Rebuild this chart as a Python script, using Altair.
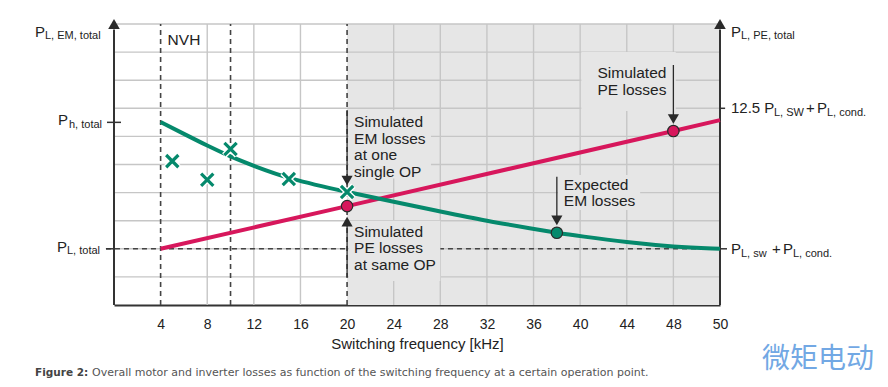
import altair as alt
import pandas as pd

# ---------------- data ----------------
em_freq = [4, 6, 8, 10, 12, 15, 20, 24, 28, 32, 36, 38, 40, 44, 48, 50]
em_loss = [6.51, 6.09, 5.67, 5.28, 4.95, 4.49, 4.02, 3.67, 3.33, 2.99, 2.71, 2.57, 2.45, 2.23, 2.07, 2.0]
pe_freq = [4, 20, 48, 50]
pe_loss = [2.0, 3.52, 6.19, 6.58]
sim_em_freq = [5, 8, 10, 15, 20]
sim_em_loss = [5.12, 4.46, 5.55, 4.48, 4.02]
pe_dot_freq = [20, 48]
pe_dot_loss = [3.52, 6.19]
em_dot_freq = [38]
em_dot_loss = [2.57]
x_ticks = [4, 8, 12, 16, 20, 24, 28, 32, 36, 40, 44, 48, 50]
grid_x = [8, 12, 16, 24, 28, 32, 36, 40, 44, 48]
grid_y = [1, 2, 3, 4, 5, 6, 7, 8, 9, 10]
dashed_x = [4, 10, 20]
p_h_total = 6.5
p_l_total = 2.0
pe_max = 7.0
shaded = [20, 50]

# arrows: x, tail, head-center
arr_down_x = [20, 48, 38]
arr_down_tail = [6.94, 8.54, 4.56]
arr_down_head = [4.43, 6.62, 3.01]
arr_up_x = [20]
arr_up_tail = [1.0]
arr_up_head = [2.97]

# background boxes behind the annotation texts
box_x1 = [20.15, 20.15, 40.1, 38.1]
box_x2 = [27.2, 28.0, 48.1, 45.15]
box_y1 = [4.5, 0.85, 6.9, 3.38]
box_y2 = [6.93, 3.0, 9.0, 4.63]

FONT = "Liberation Sans"
RED = "#d7175c"
GREEN = "#05896c"
GRID = "#c6c6c6"
SHADE = "#e6e6e6"
DARK = "#2a2a2a"

W, H = 606, 281
xs = alt.Scale(domain=[0, 48, 50], range=[0, 48 / 52 * W, W], nice=False, zero=False)
ys = alt.Scale(domain=[0, 10], nice=False, zero=False)

xaxis = alt.Axis(values=x_ticks, title="Switching frequency [kHz]", grid=False,
                 ticks=False, tickSize=0, labelPadding=12, labelFontSize=14,
                 labelColor="#222", labelFont=FONT, titleFont=FONT, titleFontSize=15,
                 titleFontWeight="normal", titleColor="#222", titlePadding=5,
                 domainColor="#333", domainWidth=2, labelFlush=False, labelOverlap=False)


def X(f):
    return alt.X(f, type="quantitative", scale=xs, axis=xaxis)


def X2(f):
    return alt.X2(f)


def Y(f):
    return alt.Y(f, type="quantitative", scale=ys, axis=None)


def Y2(f):
    return alt.Y2(f)


layers = []

# shaded region
layers.append(alt.Chart(pd.DataFrame({"a": [shaded[0]], "b": [shaded[1]], "c": [0], "d": [10]}))
              .mark_rect(color=SHADE).encode(x=X("a"), x2=X2("b"), y=Y("c"), y2=Y2("d")))

# grid
layers.append(alt.Chart(pd.DataFrame({"x": grid_x, "c": 0, "d": 10}))
              .mark_rule(color=GRID, strokeWidth=1.4)
              .encode(x=X("x"), y=Y("c"), y2=Y2("d")))
layers.append(alt.Chart(pd.DataFrame({"y": grid_y, "a": 0, "b": 50}))
              .mark_rule(color=GRID, strokeWidth=1.4)
              .encode(y=Y("y"), x=X("a"), x2=X2("b")))

# dashed reference lines
layers.append(alt.Chart(pd.DataFrame({"x": dashed_x, "c": 0, "d": 10}))
              .mark_rule(color="#444", strokeWidth=1.6, strokeDash=[5, 4])
              .encode(x=X("x"), y=Y("c"), y2=Y2("d")))
layers.append(alt.Chart(pd.DataFrame({"y": [p_l_total], "a": [-0.69], "b": [50]}))
              .mark_rule(color="#444", strokeWidth=1.6, strokeDash=[5, 4])
              .encode(y=Y("y"), x=X("a"), x2=X2("b")))

# annotation background boxes
layers.append(alt.Chart(pd.DataFrame({"a": box_x1, "b": box_x2, "c": box_y1, "d": box_y2}))
              .mark_rect(color=SHADE).encode(x=X("a"), x2=X2("b"), y=Y("c"), y2=Y2("d")))

# axis lines (left / right) with arrow heads
layers.append(alt.Chart(pd.DataFrame({"x": [0, 50], "c": 0, "d": 9.8}))
              .mark_rule(color="#333", strokeWidth=2)
              .encode(x=X("x"), y=Y("c"), y2=Y2("d")))
layers.append(alt.Chart(pd.DataFrame({"x": [0, 50], "y": [10, 10]}))
              .mark_point(shape="triangle-up", size=135, filled=True, color=DARK, opacity=1, dy=6)
              .encode(x=X("x"), y=Y("y")))

# axis ticks
layers.append(alt.Chart(pd.DataFrame({"y": [p_h_total, p_l_total, pe_max, p_l_total],
                                      "a": [-0.6, -0.69, 50, 50],
                                      "b": [0.6, 0, 50.22, 50.3]}))
              .mark_rule(color="#333", strokeWidth=1.5)
              .encode(y=Y("y"), x=X("a"), x2=X2("b")))

# curves
layers.append(alt.Chart(pd.DataFrame({"f": pe_freq, "v": pe_loss}))
              .mark_line(color=RED, strokeWidth=4)
              .encode(x=X("f"), y=Y("v")))
layers.append(alt.Chart(pd.DataFrame({"f": em_freq, "v": em_loss}))
              .mark_line(color=GREEN, strokeWidth=4, interpolate="basis")
              .encode(x=X("f"), y=Y("v")))

# simulated EM points (crosses)
XPATH = "M-1,-1L1,1M1,-1L-1,1"
sim_df = pd.DataFrame({"f": sim_em_freq, "v": sim_em_loss})
layers.append(alt.Chart(sim_df)
              .mark_point(shape=XPATH, size=160, filled=False, stroke="white", strokeWidth=6, opacity=1)
              .encode(x=X("f"), y=Y("v")))
layers.append(alt.Chart(sim_df)
              .mark_point(shape=XPATH, size=150, filled=False, stroke=GREEN, strokeWidth=3.2, opacity=1)
              .encode(x=X("f"), y=Y("v")))

# dots
layers.append(alt.Chart(pd.DataFrame({"f": pe_dot_freq, "v": pe_dot_loss}))
              .mark_point(shape="circle", size=130, filled=True, fill=RED, stroke=DARK,
                          strokeWidth=1.2, opacity=1)
              .encode(x=X("f"), y=Y("v")))
layers.append(alt.Chart(pd.DataFrame({"f": em_dot_freq, "v": em_dot_loss}))
              .mark_point(shape="circle", size=130, filled=True, fill=GREEN, stroke=DARK,
                          strokeWidth=1.2, opacity=1)
              .encode(x=X("f"), y=Y("v")))

# annotation arrows
layers.append(alt.Chart(pd.DataFrame({"x": arr_down_x + arr_up_x,
                                      "t": arr_down_tail + arr_up_tail,
                                      "h": arr_down_head + arr_up_head}))
              .mark_rule(color=DARK, strokeWidth=1.3)
              .encode(x=X("x"), y=Y("t"), y2=Y2("h")))
layers.append(alt.Chart(pd.DataFrame({"x": arr_down_x, "h": arr_down_head}))
              .mark_point(shape="triangle-down", size=125, filled=True, color=DARK, opacity=1)
              .encode(x=X("x"), y=Y("h")))
layers.append(alt.Chart(pd.DataFrame({"x": arr_up_x, "h": arr_up_head}))
              .mark_point(shape="triangle-up", size=125, filled=True, color=DARK, opacity=1)
              .encode(x=X("x"), y=Y("h")))


def label(text, x, y, dx=0, dy=0, size=15, align="left", baseline="middle",
          color="#222", weight="normal", font=FONT):
    return (alt.Chart(pd.DataFrame({"x": [x], "y": [y]}))
            .mark_text(text=text, dx=dx, dy=dy, fontSize=size, align=align, baseline=baseline,
                       color=color, fontWeight=weight, font=font, lineHeight=16.5)
            .encode(x=X("x"), y=Y("y")))


MAIN, SUB = 15, 11
# left axis labels
layers += [
    label("P", 0, 10, dx=-79, dy=7.5, size=MAIN),
    label("L, EM, total", 0, 10, dx=-69, dy=12, size=SUB),
    label("P", 0, p_h_total, dx=-56, dy=-2, size=MAIN),
    label("h, total", 0, p_h_total, dx=-45, dy=2.5, size=SUB),
    label("P", 0, p_l_total, dx=-57, dy=-2, size=MAIN),
    label("L, total", 0, p_l_total, dx=-47, dy=2.5, size=SUB),
]
# right axis labels
layers += [
    label("P", 50, 10, dx=11, dy=7.5, size=MAIN),
    label("L, PE, total", 50, 10, dx=21, dy=12, size=SUB),
    label("12.5 P", 50, pe_max, dx=11, dy=0, size=MAIN),
    label("L, SW", 50, pe_max, dx=54, dy=5, size=SUB),
    label("+", 50, pe_max, dx=86, dy=0, size=MAIN),
    label("P", 50, pe_max, dx=97, dy=0, size=MAIN),
    label("L, cond.", 50, pe_max, dx=107, dy=5, size=SUB),
    label("P", 50, p_l_total, dx=11, dy=0, size=MAIN),
    label("L, sw", 50, p_l_total, dx=21, dy=5, size=SUB),
    label("+", 50, p_l_total, dx=52, dy=0, size=MAIN),
    label("P", 50, p_l_total, dx=63, dy=0, size=MAIN),
    label("L, cond.", 50, p_l_total, dx=73, dy=5, size=SUB),
]
# annotations
ANN = 15.5
layers += [
    label("NVH", 4, 9.68, dx=7, size=ANN, baseline="top"),
    label(["Simulated", "EM losses", "at one", "single OP"], 20, 6.76, dx=7, size=ANN, baseline="top"),
    label(["Simulated", "PE losses", "at same OP"], 20, 2.85, dx=7, size=ANN, baseline="top"),
    label(["Simulated", "PE losses"], 48, 8.5, dx=-7, size=ANN, baseline="top", align="right"),
    label(["Expected", "EM losses"], 38, 4.52, dx=7, size=ANN, baseline="top"),
]
# caption + watermark
CAP_FONT = "DejaVu Sans"
layers += [
    label("Figure 2:", 0, 0, dx=-79, dy=68, size=10.5, weight="bold", color="#444", font=CAP_FONT),
    label("Overall motor and inverter losses as function of the switching frequency at a certain operation point.",
          0, 0, dx=-22, dy=68, size=11, color="#555", font=CAP_FONT),
    label("微矩电动", 50, 0, dx=42, dy=55, size=28, color="#72a8e4", font="Noto Sans CJK SC"),
]

chart = (alt.layer(*layers)
         .properties(width=W, height=H,
                     autosize=alt.AutoSizeParams(type="none"),
                     padding={"left": 106, "top": 16, "right": 160, "bottom": 74},
                     background="white")
         .configure_view(stroke=None))

chart.save("out.html", embed_options={"renderer": "svg", "actions": False})
